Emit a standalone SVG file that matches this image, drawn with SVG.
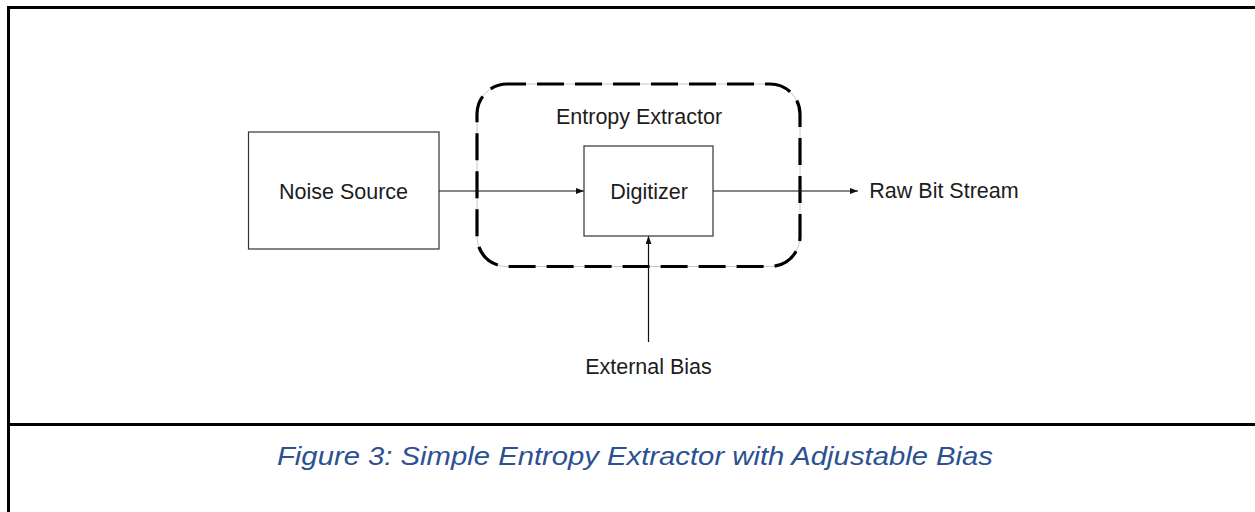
<svg xmlns="http://www.w3.org/2000/svg" width="1255" height="512" viewBox="0 0 1255 512">
  <style>
    .frame { fill: none; stroke: #000; stroke-width: 3; }
    .box { fill: #fff; stroke: #333; stroke-width: 1.2; }
    .label { font-family: "Liberation Sans", Arial, sans-serif; font-size: 21.5px; fill: #1c1c1c; text-anchor: middle; }
    .wire { fill: none; stroke: #111; stroke-width: 1.2; }
    .caption { font-family: "Liberation Sans", Arial, sans-serif; font-size: 26px; font-style: italic; fill: #2c5190; }
  </style>
  <defs>
    <marker id="arrow" viewBox="0 0 8 6" refX="8" refY="3" markerWidth="8" markerHeight="6" markerUnits="userSpaceOnUse" orient="auto">
      <path d="M0,0 L8,3 L0,6 Z" fill="#111"/>
    </marker>
  </defs>

  <rect width="1255" height="512" fill="#fff"/>

  <!-- outer frame and caption divider -->
  <g id="frame">
    <path class="frame" d="M8.5,512 V7.5 H1255"/>
    <path class="frame" d="M7,424.5 H1255"/>
  </g>

  <!-- dashed grouping boundary -->
  <g id="entropy-extractor">
    <rect x="477" y="84" width="323" height="182.5" rx="30" ry="30" fill="none" stroke="#c8c8c8" stroke-width="1"/>
    <rect x="477" y="84" width="323" height="182.5" rx="30" ry="30" fill="none" stroke="#000" stroke-width="3.2" stroke-dasharray="27 11" stroke-dashoffset="8"/>
    <text class="label" x="639" y="124">Entropy Extractor</text>
  </g>

  <g id="noise-source">
    <rect class="box" x="248.5" y="132" width="190.5" height="117"/>
    <text class="label" x="343.5" y="199">Noise Source</text>
  </g>

  <!-- connectors -->
  <g id="connectors">
    <line class="wire" x1="439" y1="191" x2="584" y2="191" marker-end="url(#arrow)"/>
    <line class="wire" x1="713" y1="191" x2="858" y2="191" marker-end="url(#arrow)"/>
    <line class="wire" x1="648.5" y1="342" x2="648.5" y2="236" marker-end="url(#arrow)"/>
  </g>

  <g id="digitizer">
    <rect class="box" x="584" y="146" width="129" height="90"/>
    <text class="label" x="649" y="199">Digitizer</text>
  </g>

  <g id="raw-bit-stream">
    <text class="label" x="944" y="198">Raw Bit Stream</text>
  </g>

  <g id="external-bias">
    <text class="label" x="648.5" y="374">External Bias</text>
  </g>

  <text class="caption" x="277" y="465" textLength="716" lengthAdjust="spacingAndGlyphs">Figure 3: Simple Entropy Extractor with Adjustable Bias</text>
</svg>
